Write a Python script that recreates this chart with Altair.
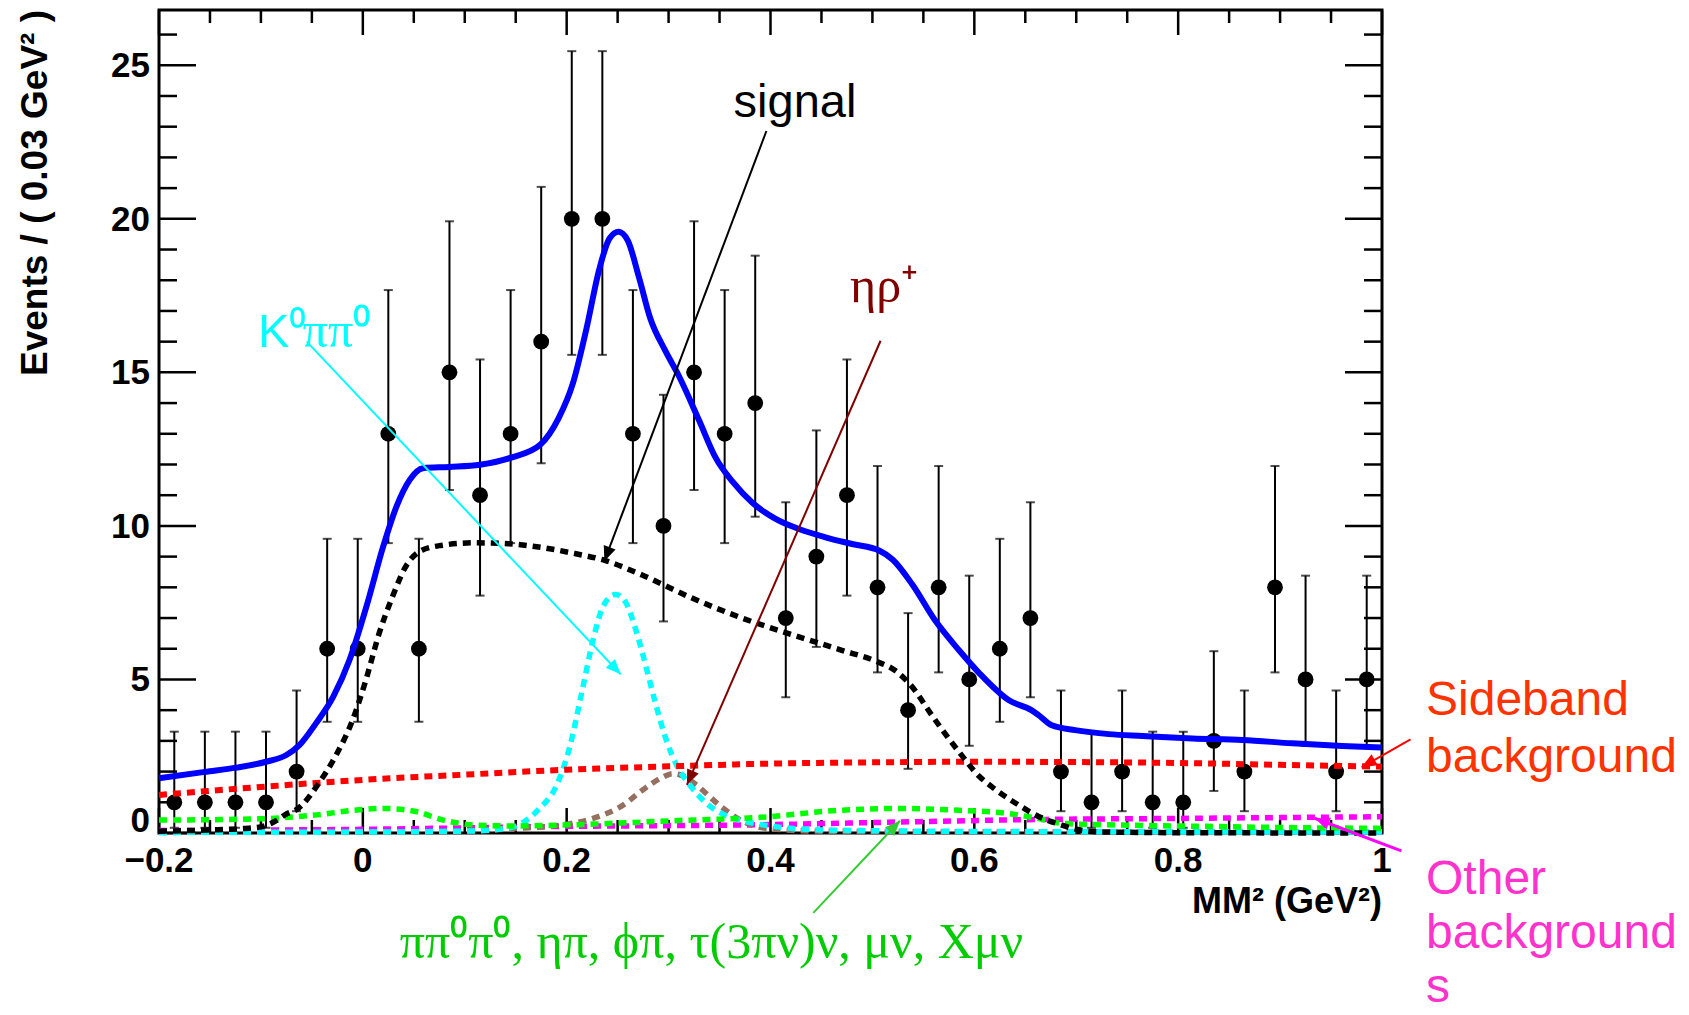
import math
import altair as alt
import pandas as pd

# ---------------------------------------------------------------------------
# Frame geometry
# ---------------------------------------------------------------------------
X_MIN, X_MAX = -0.2, 1.0
Y_MIN, Y_MAX = 0.0, 26.8
W, H = 1223, 823

# ---------------------------------------------------------------------------
# Binned data (0.03 GeV^2 bins) with asymmetric Poisson errors
# ---------------------------------------------------------------------------
bin_centers = [-0.185, -0.155, -0.125, -0.095, -0.065, -0.035, -0.005, 0.025, 0.055, 0.085,
               0.115, 0.145, 0.175, 0.205, 0.235, 0.265, 0.295, 0.325, 0.355, 0.385,
               0.415, 0.445, 0.475, 0.505, 0.535, 0.565, 0.595, 0.625, 0.655, 0.685,
               0.715, 0.745, 0.775, 0.805, 0.835, 0.865, 0.895, 0.925, 0.955, 0.985]
counts = [1, 1, 1, 1, 2, 6, 6, 13, 6, 15,
          11, 13, 16, 20, 20, 13, 10, 15, 13, 14,
          7, 9, 11, 8, 4, 8, 5, 6, 7, 2,
          1, 2, 1, 1, 3, 2, 8, 5, 2, 5]
err_lo = [0.17, 0.17, 0.17, 0.17, 0.71, 3.62, 3.62, 9.44, 3.62, 11.17,
          7.73, 9.44, 12.04, 15.57, 15.57, 9.44, 6.89, 11.17, 9.44, 10.30,
          4.42, 6.06, 7.73, 5.23, 2.09, 5.23, 2.84, 3.62, 4.42, 0.71,
          0.17, 0.71, 0.17, 0.17, 1.37, 0.71, 5.23, 2.84, 0.71, 2.84]
err_hi = [3.30, 3.30, 3.30, 3.30, 4.64, 9.58, 9.58, 17.68, 9.58, 19.92,
          15.42, 17.68, 21.04, 25.46, 25.46, 17.68, 14.27, 19.92, 17.68, 18.80,
          10.77, 13.11, 15.42, 11.95, 7.16, 11.95, 8.38, 9.58, 10.77, 4.64,
          3.30, 4.64, 3.30, 3.30, 5.92, 4.64, 11.95, 8.38, 4.64, 8.38]

# ---------------------------------------------------------------------------
# Fit projections
# ---------------------------------------------------------------------------
total_x = [-0.2, -0.155, -0.124, -0.095, -0.075, -0.062, -0.046, -0.029, -0.013, 0.0035,
           0.020, 0.033, 0.046, 0.059, 0.085, 0.115, 0.147, 0.174, 0.192, 0.206,
           0.219, 0.232, 0.242, 0.251, 0.26, 0.271, 0.282, 0.297, 0.31, 0.330,
           0.346, 0.363, 0.382, 0.405, 0.428, 0.454, 0.48, 0.507, 0.52, 0.539,
           0.562, 0.585, 0.605, 0.634, 0.656, 0.663, 0.676, 0.699, 0.732, 0.765,
           0.814, 0.863, 0.912, 0.961, 1.0]
total_y = [1.78, 1.99, 2.13, 2.32, 2.54, 2.87, 3.57, 4.44, 5.64, 7.37,
           9.33, 10.63, 11.5, 11.88, 11.92, 11.99, 12.24, 12.64, 13.5, 14.63,
           16.36, 18.36, 19.36, 19.58, 19.29, 18.09, 16.76, 15.69, 14.89, 13.43,
           12.23, 11.43, 10.76, 10.23, 9.90, 9.63, 9.41, 9.19, 8.90, 8.10,
           6.90, 5.95, 5.2, 4.32, 4.0, 3.84, 3.51, 3.35, 3.22, 3.16,
           3.08, 3.03, 2.92, 2.83, 2.78]

signal_x = [-0.2, -0.15, -0.12, -0.1, -0.085, -0.076, -0.063, -0.043, -0.027, -0.010,
            0.003, 0.016, 0.029, 0.042, 0.058, 0.078, 0.11, 0.143, 0.175, 0.208,
            0.238, 0.274, 0.323, 0.372, 0.422, 0.47, 0.503, 0.522, 0.538, 0.559,
            0.585, 0.605, 0.617, 0.643, 0.663, 0.68, 0.70, 0.72, 0.8, 1.0]
signal_y = [0.06, 0.1, 0.14, 0.2, 0.4, 0.6, 0.81, 1.63, 2.49, 3.68,
            4.98, 6.5, 7.69, 8.67, 9.21, 9.37, 9.45, 9.42, 9.3, 9.1,
            8.87, 8.4, 7.65, 7.0, 6.45, 5.95, 5.6, 5.3, 4.8, 3.8,
            2.64, 1.84, 1.51, 0.92, 0.54, 0.32, 0.12, 0.04, 0.01, 0.0]

k0pipi0_x = [-0.2, 0.0, 0.1, 0.141, 0.172, 0.191, 0.203, 0.215, 0.226, 0.236,
             0.248, 0.258, 0.268, 0.278, 0.287, 0.297, 0.308, 0.32, 0.336, 0.356,
             0.376, 0.402, 0.45, 0.6, 1.0]
k0pipi0_y = [0.02, 0.03, 0.06, 0.15, 0.75, 1.62, 2.8, 4.6, 6.3, 7.4,
             7.77, 7.5, 6.6, 5.4, 4.24, 3.1, 2.2, 1.6, 1.0, 0.57,
             0.37, 0.22, 0.1, 0.05, 0.03]

etarho_x = [-0.2, 0.0, 0.1, 0.149, 0.195, 0.226, 0.253, 0.277, 0.293, 0.304,
            0.315, 0.327, 0.35, 0.369, 0.396, 0.45, 0.6, 1.0]
etarho_y = [0.02, 0.03, 0.06, 0.15, 0.26, 0.48, 0.86, 1.46, 1.8, 1.93,
            1.85, 1.57, 0.9, 0.45, 0.15, 0.06, 0.04, 0.03]

sideband_x = [-0.2, -0.1, 0.0, 0.1, 0.2, 0.3, 0.4, 0.5, 0.6, 0.7, 0.8, 0.9, 1.0]
sideband_y = [1.24, 1.5, 1.73, 1.9, 2.06, 2.17, 2.26, 2.3, 2.32, 2.31, 2.28, 2.22, 2.16]

peaking_x = [-0.2, -0.103, -0.045, -0.006, 0.021, 0.052, 0.079, 0.11, 0.149, 0.226,
             0.304, 0.39, 0.468, 0.526, 0.585, 0.632, 0.663, 0.687, 0.741, 0.819,
             0.898, 1.0]
peaking_y = [0.42, 0.46, 0.59, 0.75, 0.80, 0.70, 0.42, 0.26, 0.23, 0.29,
             0.40, 0.51, 0.74, 0.80, 0.74, 0.64, 0.47, 0.31, 0.26, 0.22,
             0.18, 0.15]

other_x = [-0.2, 0.0, 0.187, 0.39, 0.546, 0.663, 0.78, 1.0]
other_y = [0.08, 0.12, 0.21, 0.27, 0.37, 0.44, 0.47, 0.53]

# ---------------------------------------------------------------------------
# Axis ticks and tick labels
# ---------------------------------------------------------------------------
x_major_ticks = [-0.2, 0.0, 0.2, 0.4, 0.6, 0.8, 1.0]
x_tick_labels = ["\u22120.2", "0", "0.2", "0.4", "0.6", "0.8", "1"]
x_minor_ticks = [-0.15, -0.1, -0.05, 0.05, 0.1, 0.15, 0.25, 0.3, 0.35, 0.45,
                 0.5, 0.55, 0.65, 0.7, 0.75, 0.85, 0.9, 0.95]
y_major_ticks = [0, 5, 10, 15, 20, 25]
y_tick_labels = ["0", "5", "10", "15", "20", "25"]
y_minor_ticks = [1, 2, 3, 4, 6, 7, 8, 9, 11, 12, 13, 14, 16, 17, 18, 19, 21, 22, 23, 24, 26]

x_title = "MM² (GeV²)"
y_title = "Events / ( 0.03 GeV² )"

xs = alt.Scale(domain=[X_MIN, X_MAX], nice=False, zero=False)
ys = alt.Scale(domain=[Y_MIN, Y_MAX], nice=False, zero=False)

SANS = "Liberation Sans"
SERIF = "Liberation Serif"


def X(field):
    return alt.X(field, scale=xs, axis=None)


def Y(field):
    return alt.Y(field, scale=ys, axis=None)


layers = []

# inward ticks on all four sides
def x_ticks(vals, y0, y1):
    return alt.Chart(pd.DataFrame({"v": vals})).mark_rule(color="black", strokeWidth=2.5).encode(
        x=X("v:Q"), y=alt.value(y0), y2=alt.value(y1))


def y_ticks(vals, x0, x1):
    return alt.Chart(pd.DataFrame({"v": vals})).mark_rule(color="black", strokeWidth=2.5).encode(
        y=Y("v:Q"), x=alt.value(x0), x2=alt.value(x1))


layers += [
    x_ticks(x_major_ticks, H, H - 25), x_ticks(x_minor_ticks, H, H - 13),
    x_ticks(x_major_ticks, 0, 25), x_ticks(x_minor_ticks, 0, 13),
    y_ticks(y_major_ticks, 0, 37), y_ticks(y_minor_ticks, 0, 18),
    y_ticks(y_major_ticks, W, W - 37), y_ticks(y_minor_ticks, W, W - 18),
]

# tick labels and axis titles
layers.append(alt.Chart(pd.DataFrame({"v": x_major_ticks, "t": x_tick_labels})).mark_text(
    font=SANS, fontWeight="bold", fontSize=35, color="black", align="center",
    baseline="alphabetic").encode(x=X("v:Q"), y=alt.value(H + 39), text="t:N"))
layers.append(alt.Chart(pd.DataFrame({"v": y_major_ticks[1:], "t": y_tick_labels[1:]})).mark_text(
    font=SANS, fontWeight="bold", fontSize=35, color="black", align="right",
    baseline="alphabetic", dy=12).encode(y=Y("v:Q"), x=alt.value(-9), text="t:N"))
# the zero label sits a little higher, clear of the x labels
layers.append(alt.Chart(pd.DataFrame({"v": y_major_ticks[:1], "t": y_tick_labels[:1]})).mark_text(
    font=SANS, fontWeight="bold", fontSize=35, color="black", align="right",
    baseline="alphabetic", dy=-1).encode(y=Y("v:Q"), x=alt.value(-9), text="t:N"))
layers.append(alt.Chart(pd.DataFrame({"t": [x_title]})).mark_text(
    font=SANS, fontWeight="bold", fontSize=36, color="black", align="right",
    baseline="alphabetic").encode(x=alt.value(W), y=alt.value(H + 80), text="t:N"))
layers.append(alt.Chart(pd.DataFrame({"t": [y_title]})).mark_text(
    font=SANS, fontWeight="bold", fontSize=37, color="black", align="right",
    baseline="middle", angle=270).encode(x=alt.value(-123), y=alt.value(0), text="t:N"))

# data points with error bars
pts = pd.DataFrame({"x": bin_centers, "n": counts, "lo": err_lo, "hi": err_hi})
layers.append(alt.Chart(pts).mark_rule(color="black", strokeWidth=2).encode(
    x=X("x:Q"), y=Y("lo:Q"), y2="hi:Q"))
for end in ["lo", "hi"]:
    layers.append(alt.Chart(pts).mark_tick(color="black", orient="horizontal", size=9,
                                           thickness=2).encode(x=X("x:Q"), y=Y(f"{end}:Q")))
layers.append(alt.Chart(pts).mark_point(filled=True, color="black", size=250, opacity=1).encode(
    x=X("x:Q"), y=Y("n:Q")))


# fit curves
def curve(xv, yv, color, dash=None, width=5.5):
    kw = dict(color=color, strokeWidth=width, interpolate="monotone", strokeCap="butt")
    if dash:
        kw["strokeDash"] = dash
    return alt.Chart(pd.DataFrame({"x": xv, "y": yv})).mark_line(**kw).encode(
        x=X("x:Q"), y=Y("y:Q"))


DOT = [8, 6]
layers += [
    curve(other_x, other_y, "#ff00ff", DOT),
    curve(etarho_x, etarho_y, "#957060", DOT),
    curve(k0pipi0_x, k0pipi0_y, "#00ffff", DOT),
    curve(peaking_x, peaking_y, "#00ff00", DOT),
    curve(sideband_x, sideband_y, "#ff0000", DOT, 6),
    curve(signal_x, signal_y, "black", DOT),
    curve(total_x, total_y, "#0000ff", None, 6),
]

# annotation arrows: (x0, y0) -> (x1, y1) in data units
PX_X = W / (X_MAX - X_MIN)
PX_Y = H / (Y_MAX - Y_MIN)
HEAD = "M0,0L0.42,1L-0.42,1Z"


def arrow(x0, y0, x1, y1, color, width=2):
    dx = (x1 - x0) * PX_X
    dy = -(y1 - y0) * PX_Y
    ang = math.degrees(math.atan2(dx, -dy)) % 360
    line = alt.Chart(pd.DataFrame({"x": [x0], "y": [y0], "x2": [x1], "y2": [y1]})).mark_rule(
        color=color, strokeWidth=width).encode(x=X("x:Q"), y=Y("y:Q"), x2="x2:Q", y2="y2:Q")
    head = alt.Chart(pd.DataFrame({"x": [x1], "y": [y1], "a": [ang]})).mark_point(
        shape=HEAD, filled=True, color=color, size=900, opacity=1, strokeWidth=0).encode(
        x=X("x:Q"), y=Y("y:Q"), angle=alt.Angle("a:Q", scale=None))
    return [line, head]


def label(xv, yv, texts, color, font, size):
    return alt.Chart(pd.DataFrame({"x": xv, "y": yv, "t": texts})).mark_text(
        align="left", baseline="alphabetic", font=font, fontSize=size, color=color).encode(
        x=X("x:Q"), y=Y("y:Q"), text="t:N")


layers += arrow(0.396, 22.86, 0.237, 8.85, "black")
layers.append(label([0.3638], [23.3], ["signal"], "black", SANS, 47))

layers += arrow(0.508, 16.03, 0.318, 1.57, "#800000")
layers.append(label([0.478], [17.3], ["ηρ⁺"], "#800000", SERIF, 50))

layers += arrow(-0.055, 16.0, 0.253, 5.17, "#00ffff")
layers.append(label([-0.103], [15.84], ["K⁰"], "#00ffff", SANS, 47))
layers.append(label([-0.059], [15.84], ["ππ⁰"], "#00ffff", SERIF, 50))

layers += arrow(0.442, -2.6, 0.527, 0.40, "#33cc33")
layers.append(label([0.0362], [-4.08], ["ππ⁰π⁰, ηπ, ϕπ, τ(3πν)ν, μν, Xμν"], "#00cc00", SERIF, 50))

layers += arrow(1.028, 3.05, 0.98, 2.14, "#ff0000")
layers.append(label([1.0432, 1.0432], [3.84, 1.99], ["Sideband", "background"], "#ff3300", SANS, 48))

layers += arrow(1.019, -0.58, 0.934, 0.48, "#ff00ff", 3)
layers.append(label([1.0432, 1.0432, 1.0432], [-2.0, -3.75, -5.5],
                    ["Other", "background", "s"], "#ff33cc", SANS, 48))

chart = alt.layer(*layers).properties(
    width=W, height=H,
    padding={"left": 159, "top": 10, "right": 307, "bottom": 182},
    autosize=alt.AutoSizeParams(type="none"),
    background="white",
).configure_view(stroke="black", strokeWidth=3)

chart.save("out.html", embed_options={"renderer": "svg", "actions": False})
